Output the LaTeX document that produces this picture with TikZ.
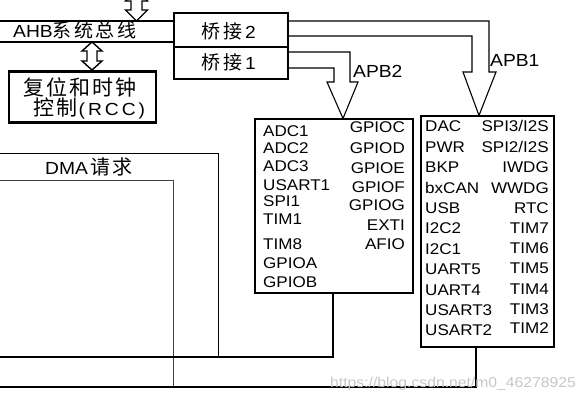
\documentclass[tikz,border=0pt]{standalone}
\usepackage{fontspec}
\setmainfont[FakeStretch=1.1]{Liberation Sans}
\newfontfamily\cjk{Noto Sans CJK SC}
\newcommand{\fsz}[1]{\fontsize{#1}{#1}\selectfont}
\tikzset{
  busline/.style={line width=1.3pt},
  thinline/.style={line width=0.9pt},
  bridgebox/.style={draw, line width=1.3pt, inner sep=0, minimum width=114pt},
  perbox/.style={draw, line width=1.1pt, inner sep=0},
  rccbox/.style={draw, line width=2.2pt, inner sep=0, minimum width=147pt, minimum height=51pt},
  hollow/.style={draw, fill=white, line width=1.4pt, line join=miter},
  apbline/.style={line width=1.1pt, line join=miter},
  item/.style={inner sep=0, font=\fsz{15.5}},
  lbl/.style={inner sep=0, font=\fsz{17.5}},
}
\begin{document}
\begin{tikzpicture}[x=1pt,y=-1pt]
\useasboundingbox (0,0) rectangle (586,400);

% bridges
\node[bridgebox, minimum height=34pt] (bridge2) at (231,30) {};
\node[bridgebox, minimum height=32pt] (bridge1) at (231,63) {};
\node[lbl, anchor=base west] (b2t) at (201,38) {{\cjk\fsz{19}桥\kern3pt 接}\kern3pt 2};
\node[lbl, anchor=base west] (b1t) at (201,69.5) {{\cjk\fsz{19}桥\kern3pt 接}\kern3pt 1};

% AHB bus
\coordinate (ahb1) at (0,21);
\coordinate (ahb2) at (0,42);
\draw[busline] (ahb1) -- (bridge2.west |- ahb1);
\draw[busline] (ahb2) -- (bridge2.west |- ahb2);
\node[lbl, anchor=base west] (ahbt) at (13,37.3) {AHB{\cjk\fsz{19}系\kern2.5pt 统\kern2.5pt 总\kern2.5pt 线}};

% RCC box
\node[rccbox] (rcc) at (82.5,97) {};
\node[inner sep=0, anchor=base] (rcct1) at (80,95) {\cjk\fsz{21}复\kern1.8pt 位\kern1.8pt 和\kern1.8pt 时\kern1.8pt 钟};
\node[inner sep=0, anchor=base] (rcct2) at (89.5,115.5) {{\cjk\fsz{21}控\kern1.8pt 制}\kern1pt{\fsz{17.5}(\kern3pt R\kern3pt C\kern3pt C\kern3pt)}};

% double arrows
\draw[hollow] (92,42) -- (102,51) -- (97,51) -- (97,61) -- (102,61) -- (92,70)
  -- (82,61) -- (87,61) -- (87,51) -- (82,51) -- cycle;
\begin{scope}
\clip (0,0) rectangle (586,400);
\draw[hollow] (136.5,-10) -- (147.5,1) -- (142,1) -- (142,10) -- (147.5,10) -- (136.5,21)
  -- (125.5,10) -- (131,10) -- (131,1) -- (125.5,1) -- cycle;
\end{scope}

% peripheral boxes
\node[perbox, minimum width=158pt, minimum height=174pt] (apb2) at (334,206) {};
\node[perbox, minimum width=133pt, minimum height=231pt] (apb1) at (487.5,231.5) {};

% APB arrows
\draw[apbline] (bridge2.east |- ahb1) -- (489,21) -- (489,72) -- (496,72)
  -- (479,0 |- apb1.north) -- (463,72) -- (472,72) -- (472,36) -- (bridge2.east |- 0,36);
\draw[apbline] (bridge1.east |- 0,52) -- (350,52) -- (350,82) -- (358,82)
  -- (343,0 |- apb2.north) -- (327,82) -- (334,82) -- (334,68) -- (bridge1.east |- 0,68);
\node[lbl, anchor=base west] (apb1t) at (490,66) {APB1};
\node[lbl, anchor=base west] (apb2t) at (353,77) {APB2};

% APB2 contents
\foreach \y/\t [count=\i] in {136/ADC1,153.5/ADC2,171/ADC3,190.5/USART1,206/SPI1,224.5/TIM1,249.5/TIM8,268.5/GPIOA,287.5/GPIOB}
  \node[item, anchor=base west] (p2l\i) at (263,\y) {\t};
\foreach \y/\t [count=\i] in {132.5/GPIOC,153/GPIOD,173/GPIOE,192.5/GPIOF,210.5/GPIOG,230.5/EXTI,249.5/AFIO}
  \node[item, anchor=base east] (p2r\i) at (405,\y) {\t};

% APB1 contents
\foreach \y/\t [count=\i] in {131.5/DAC,152.5/PWR,172.5/BKP,193/bxCAN,213/USB,233.5/I2C2,254/I2C1,274.5/UART5,295.5/UART4,315.5/USART3,335.5/USART2}
  \node[item, anchor=base west] (p1l\i) at (425,\y) {\t};
\foreach \y/\t [count=\i] in {131.5/{SPI3/I2S},152.5/{SPI2/I2S},172.5/IWDG,193/WWDG,213/RTC,233/TIM7,253.5/TIM6,273/TIM5,294.5/TIM4,314.5/TIM3,333.5/TIM2}
  \node[item, anchor=base east] (p1r\i) at (549,\y) {\t};

% DMA lines
\coordinate (d1) at (0,153);
\coordinate (d2) at (0,180);
\coordinate (d3) at (0,357);
\coordinate (d4) at (0,387);
\draw[thinline] (d1) -- (218,153) -- (218,357);
\draw[thinline, black!75] (d2) -- (173,180) -- (173,388);
\draw[busline] (d3) -- (333,357) -- (333,0 |- apb2.south);
\draw[busline] (d4) -- (476,387) -- (476,0 |- apb1.south);
\node[lbl, anchor=base west] (dmat) at (45,174) {DMA\kern3pt{\cjk\fsz{20}请\kern2pt 求}};

% watermark
\node[inner sep=0, anchor=base west, text=black!22, font=\fsz{14.3}] (wm) at (330,387) {https://blog.csdn.net/m0\_46278925};
\end{tikzpicture}
\end{document}
